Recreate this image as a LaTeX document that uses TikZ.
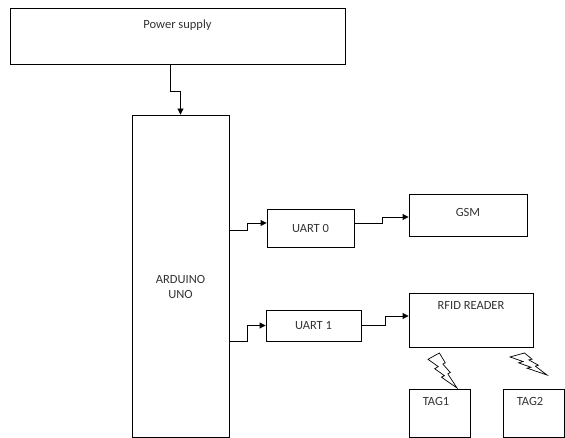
\documentclass[tikz,border=0pt]{standalone}
\usepackage{fontspec}
\setmainfont{Carlito}
\usepackage{tikz}
\usetikzlibrary{arrows.meta,positioning,calc}
\tikzset{
  block/.style  ={draw,line width=0.9pt,inner sep=0pt,font=\fontsize{12.5}{15}\selectfont,text=black!80},
  inlabel/.style={font=\fontsize{12.5}{15}\selectfont,text=black!80,inner sep=0pt},
  conn/.style   ={line width=0.9pt,-{Triangle[length=6pt,width=6pt]}},
  boltline/.style={line width=0.7pt,line join=miter},
}
\newcommand{\boltpath}{(8.472,0) -- (12.860,6.080) -- (11.050,6.797) -- (16.577,12.007) -- (14.767,12.877) -- (21.6,21.6) -- (10.012,14.915) -- (12.222,13.987) -- (5.022,9.705) -- (7.602,8.382) -- (0,3.890) -- cycle}

\begin{document}
\begin{tikzpicture}[x=1pt,y=-1pt]
  \useasboundingbox[fill=white] (0,0) rectangle (565,438);
  \node[block,minimum width=335,minimum height=56,
        label={[inlabel,anchor=north,yshift=-12]north:Power supply}] (power) at (177.5,36) {};
  \node[block,minimum width=97,minimum height=322,align=center,
        label={[inlabel,align=center,yshift=-10.5]center:ARDUINO\\UNO}] (arduino) at (180.5,276) {};
  \node[block,minimum width=87,minimum height=38] (uart0) at (310.5,228) {UART 0};
  \node[block,minimum width=95,minimum height=31] (uart1) at (313.5,325.5) {UART 1};
  \node[block,minimum width=118,minimum height=42,
        label={[inlabel,yshift=3]center:GSM}] (gsm) at (468,215) {};
  \node[block,minimum width=124,minimum height=54,
        label={[inlabel,anchor=north,yshift=-9]north:RFID READER}] (rfid) at (471,320) {};
  \foreach \name/\x/\w in {tag1/439.5/61,tag2/533.5/61}{
    \node[block,minimum width=\w,minimum height=48,
          label={[inlabel,anchor=north west,xshift=14,yshift=-9]north west:\MakeUppercase{\name}}] (\name) at (\x,413) {};
  }

  % connectors
  \draw[conn] ([xshift=-7.5]power.south) -- ++(0,27) -| (arduino.north);
  \draw[conn] ([yshift=-2]uart0.west -| arduino.east) -- ++(18,0) |- ([yshift=5]uart0.west);
  \draw[conn] ([yshift=5]uart0.east) -- ++(28,0) |- ([yshift=-2]gsm.west);
  \draw[conn] ([yshift=-15.5]uart1.west -| arduino.east) -- ++(18,0) |- (uart1.west);
  \draw[conn] (uart1.east) -- ++(24,0) |- ([yshift=4]rfid.west);

  % wireless links
  \draw[boltline,shift={(428,353)},xscale=29/21.6,yscale=35/21.6] \boltpath;
  \draw[boltline,shift={(510,353)},xscale=37/21.6,yscale=22/21.6] \boltpath;
\end{tikzpicture}
\end{document}
